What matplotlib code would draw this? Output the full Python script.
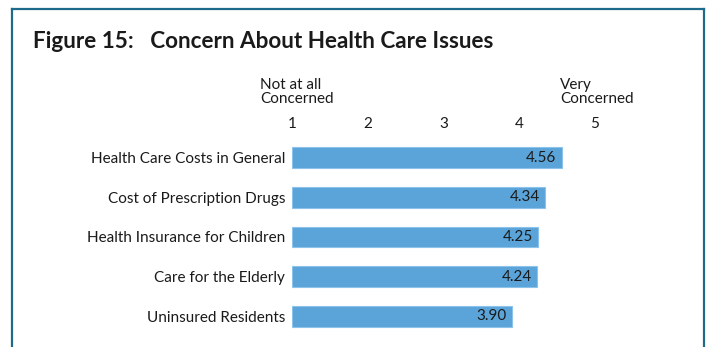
import matplotlib
matplotlib.use("Agg")
import matplotlib.pyplot as plt

categories = [
    "Health Care Costs in General",
    "Cost of Prescription Drugs",
    "Health Insurance for Children",
    "Care for the Elderly",
    "Uninsured Residents",
]
values = [4.56, 4.34, 4.25, 4.24, 3.90]
scale_ticks = [1, 2, 3, 4, 5]
low_label = "Not at all\nConcerned"
high_label = "Very\nConcerned"
title = "Figure 15:   Concern About Health Care Issues"

plt.rcParams["font.family"] = ["Lato", "DejaVu Sans"]

W, H = 711, 347
fig = plt.figure(figsize=(W / 100, H / 100), dpi=100)
fig.patch.set_facecolor("white")

# frame around the figure (open at the bottom)
frame_color = "#1d6a8a"
fig.add_artist(plt.Line2D([12 / W, 12 / W], [0, 1 - 9 / H], transform=fig.transFigure,
                          color=frame_color, lw=1.6))
fig.add_artist(plt.Line2D([12 / W, 704 / W], [1 - 9 / H, 1 - 9 / H], transform=fig.transFigure,
                          color=frame_color, lw=1.6))
fig.add_artist(plt.Line2D([704 / W, 704 / W], [0, 1 - 9 / H], transform=fig.transFigure,
                          color=frame_color, lw=1.6))

fig.text(33 / W, 1 - 42 / H, title, fontsize=16.2, fontweight="bold",
         color="#1a1a1a", ha="left", va="center")

# axes: x=1 at px 292, x=5 at px 595; rows span px 138..336
x0, x1 = 292, 595
y_top, y_bot = 138, 336
ax = fig.add_axes([x0 / W, 1 - y_bot / H, (x1 - x0) / W, (y_bot - y_top) / H])
ax.set_xlim(1, 5)
ax.set_ylim(len(categories) - 0.5, -0.5)

ypos = list(range(len(categories)))
widths = [v - 1 for v in values]
ax.barh(ypos, widths, left=1, height=0.53, color="#5ba4d9",
        edgecolor="#8cc3ea", linewidth=0.8)

for y, v in zip(ypos, values):
    ax.text(v - 0.07, y, f"{v:.2f}", ha="right", va="center",
            fontsize=11, color="#1a1a1a")

ax.set_yticks(ypos)
ax.set_yticklabels(categories, fontsize=11, color="#1a1a1a")
ax.tick_params(axis="y", length=0, pad=5)

ax.xaxis.tick_top()
ax.set_xticks(scale_ticks)
ax.set_xticklabels([str(t) for t in scale_ticks], fontsize=11, color="#1a1a1a")
ax.tick_params(axis="x", length=0, pad=5)

for s in ax.spines.values():
    s.set_visible(False)
ax.set_facecolor("none")

fig.text(260 / W, 1 - 92 / H, low_label, fontsize=11, color="#1a1a1a",
         ha="left", va="center", linespacing=1.08)
fig.text(560 / W, 1 - 92 / H, high_label, fontsize=11, color="#1a1a1a",
         ha="left", va="center", linespacing=1.08)

fig.savefig("out.png", dpi=100, facecolor="white")
